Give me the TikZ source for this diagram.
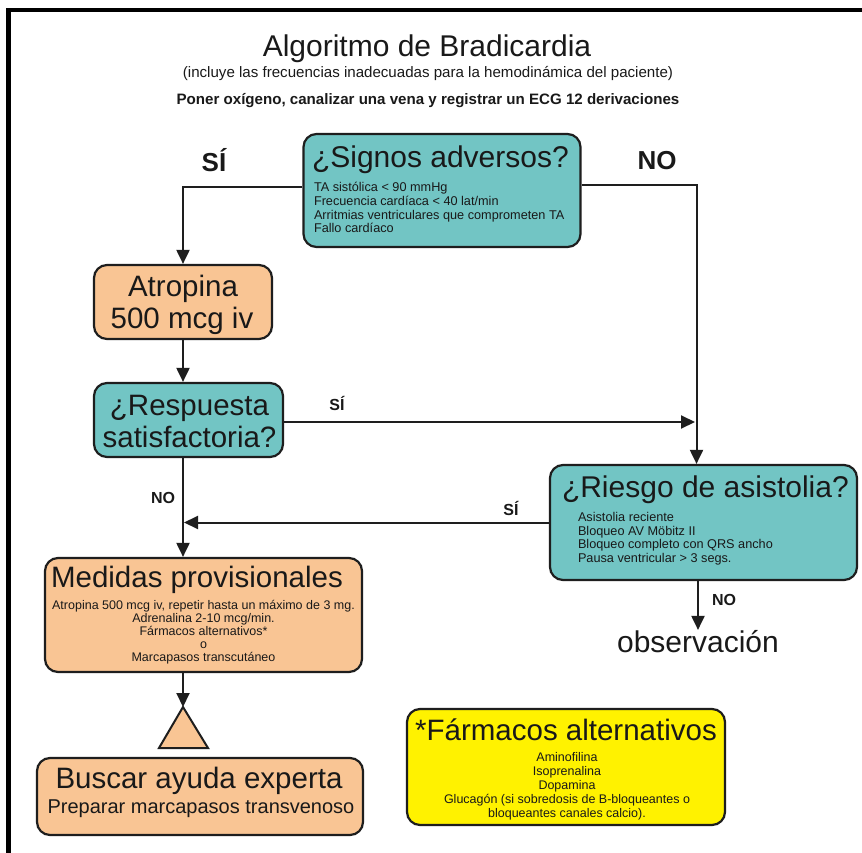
\documentclass[tikz,border=0pt]{standalone}
\usepackage{fontspec}
\setmainfont{Liberation Sans}
\usetikzlibrary{arrows.meta}
\definecolor{tealc}{RGB}{114,197,196}
\definecolor{orangec}{RGB}{249,197,148}
\definecolor{yellowc}{RGB}{255,242,0}
\definecolor{edgec}{RGB}{30,30,30}
\newcommand\fsz[2]{\fontsize{#1}{#2}\selectfont}
\tikzset{
  box/.style={draw=edgec, line width=2.2pt, rounded corners=13pt, inner sep=0pt},
  qbox/.style={box, fill=tealc},
  abox/.style={box, fill=orangec},
  ybox/.style={box, fill=yellowc},
  txt/.style={inner sep=0pt, outer sep=0pt, text=black!90},
  big/.style={txt, font=\fsz{29.5}{32}},
  small/.style={txt, font=\fsz{12.7}{13.6}},
  lab/.style={txt, font=\bfseries\fsz{16}{16}},
  biglab/.style={txt, font=\bfseries\fsz{26}{26}},
  arr/.style={draw=edgec, line width=2pt, -{Triangle[length=14pt,width=13pt]}},
}
\begin{document}
\begin{tikzpicture}[x=1pt, y=-1pt]
\useasboundingbox (0,0) rectangle (862,853);
\fill[white] (0,0) rectangle (862,853);
% frame on the top and left edges
\draw[line width=4.5pt, line join=miter] (8.5,853) -- (8.5,10) -- (862,10);

% heading
\node[txt, font=\fsz{30}{30}, anchor=base] (title) at (427,57) {Algoritmo de Bradicardia};
\node[txt, font=\fsz{15.1}{15}, anchor=base] (sub) at (428,78) {(incluye las frecuencias inadecuadas para la hemodinámica del paciente)};
\node[txt, font=\bfseries\fsz{15.1}{15}, anchor=base] (first) at (428,105) {Poner oxígeno, canalizar una vena y registrar un ECG 12 derivaciones};

% boxes
\node[qbox, minimum width=277pt, minimum height=113pt] (signos) at (442,190.5) {};
\node[abox, minimum width=178pt, minimum height=74pt] (atropina) at (183,302) {};
\node[qbox, minimum width=189pt, minimum height=74pt] (respuesta) at (188.5,420) {};
\node[qbox, minimum width=307pt, minimum height=115pt] (riesgo) at (703.5,522.5) {};
\node[abox, minimum width=317pt, minimum height=114pt] (medidas) at (203.5,615) {};
\node[abox, minimum width=326pt, minimum height=77pt] (buscar) at (200,796.5) {};
\node[ybox, minimum width=318pt, minimum height=116pt] (farmacos) at (566,767) {};

% box texts
\node[big, anchor=base west, font=\fsz{30}{30}] (signosT) at (312,168) {¿Signos adversos?};
\node[small, anchor=north west, align=left] (signosL) at (314,182.5) {TA sistólica < 90 mmHg\\Frecuencia cardíaca < 40 lat/min\\Arritmias ventriculares que comprometen TA\\Fallo cardíaco};

\node[big, anchor=base] (atroT1) at (183,296) {Atropina};
\node[big, anchor=base] (atroT2) at (182,328) {500 mcg iv};

\node[big, anchor=base] (respT1) at (189.5,415) {¿Respuesta};
\node[big, anchor=base] (respT2) at (189.5,447) {satisfactoria?};

\node[big, anchor=base west, font=\fsz{30}{30}] (riesgoT) at (562,497) {¿Riesgo de asistolia?};
\node[small, anchor=north west, align=left] (riesgoL) at (578,512.5) {Asistolia reciente\\Bloqueo AV Möbitz II\\Bloqueo completo con QRS ancho\\Pausa ventricular > 3 segs.};

\node[big, anchor=base] (medT) at (197,587) {Medidas provisionales};
\node[small, anchor=north, align=center, font=\fsz{12.5}{13.1}] (medL) at (203.5,600) {Atropina 500 mcg iv, repetir hasta un máximo de 3 mg.\\Adrenalina 2-10 mcg/min.\\Fármacos alternativos*\\o\\Marcapasos transcutáneo};

\node[big, anchor=base] (busT) at (199,788) {Buscar ayuda experta};
\node[txt, font=\fsz{20}{20}, anchor=base] (busL) at (201,813) {Preparar marcapasos transvenoso};

\node[big, anchor=base] (farT) at (566,740) {*Fármacos alternativos};
\node[small, anchor=north, align=center, font=\fsz{12.5}{14}] (farL) at (567,752.5) {Aminofilina\\Isoprenalina\\Dopamina\\Glucagón (si sobredosis de B-bloqueantes o\\bloqueantes canales calcio).};

\node[big, anchor=base, font=\fsz{30}{30}] (obs) at (698,652) {observación};

% helper points
\coordinate (colx) at (183,0);
\coordinate (join) at (695,422);
\coordinate (merge) at (184,522.5);

% warning triangle
\coordinate (tri) at (183,707);
\draw[fill=orangec, draw=edgec, line width=2pt, line join=miter] (159,748) -- (tri) -- (208,748) -- cycle;

% connectors
\draw[arr] ([yshift=3.5pt]signos.west) -| (atropina.north);
\draw[arr] ([yshift=5pt]signos.east) -| ([xshift=-7pt]riesgo.north);
\draw[arr] (atropina.south) -- (respuesta.north -| atropina.south);
\draw[arr] ([yshift=-2pt]respuesta.east) -- (join);
\draw[arr] (respuesta.south -| colx) -- (medidas.north -| colx);
\draw[arr] (riesgo.west) -- (merge);
\draw[arr] (riesgo.south -| obs) -- (obs.north);
\draw[arr] (medidas.south -| colx) -- (tri);

% branch labels
\node[biglab] (siA) at (214,160) {SÍ};
\node[biglab] (noA) at (657,161) {NO};
\node[lab] (siB) at (337,403) {SÍ};
\node[lab] (noB) at (163,498) {NO};
\node[lab] (siC) at (511,508) {SÍ};
\node[lab] (noC) at (724,600) {NO};
\end{tikzpicture}
\end{document}
